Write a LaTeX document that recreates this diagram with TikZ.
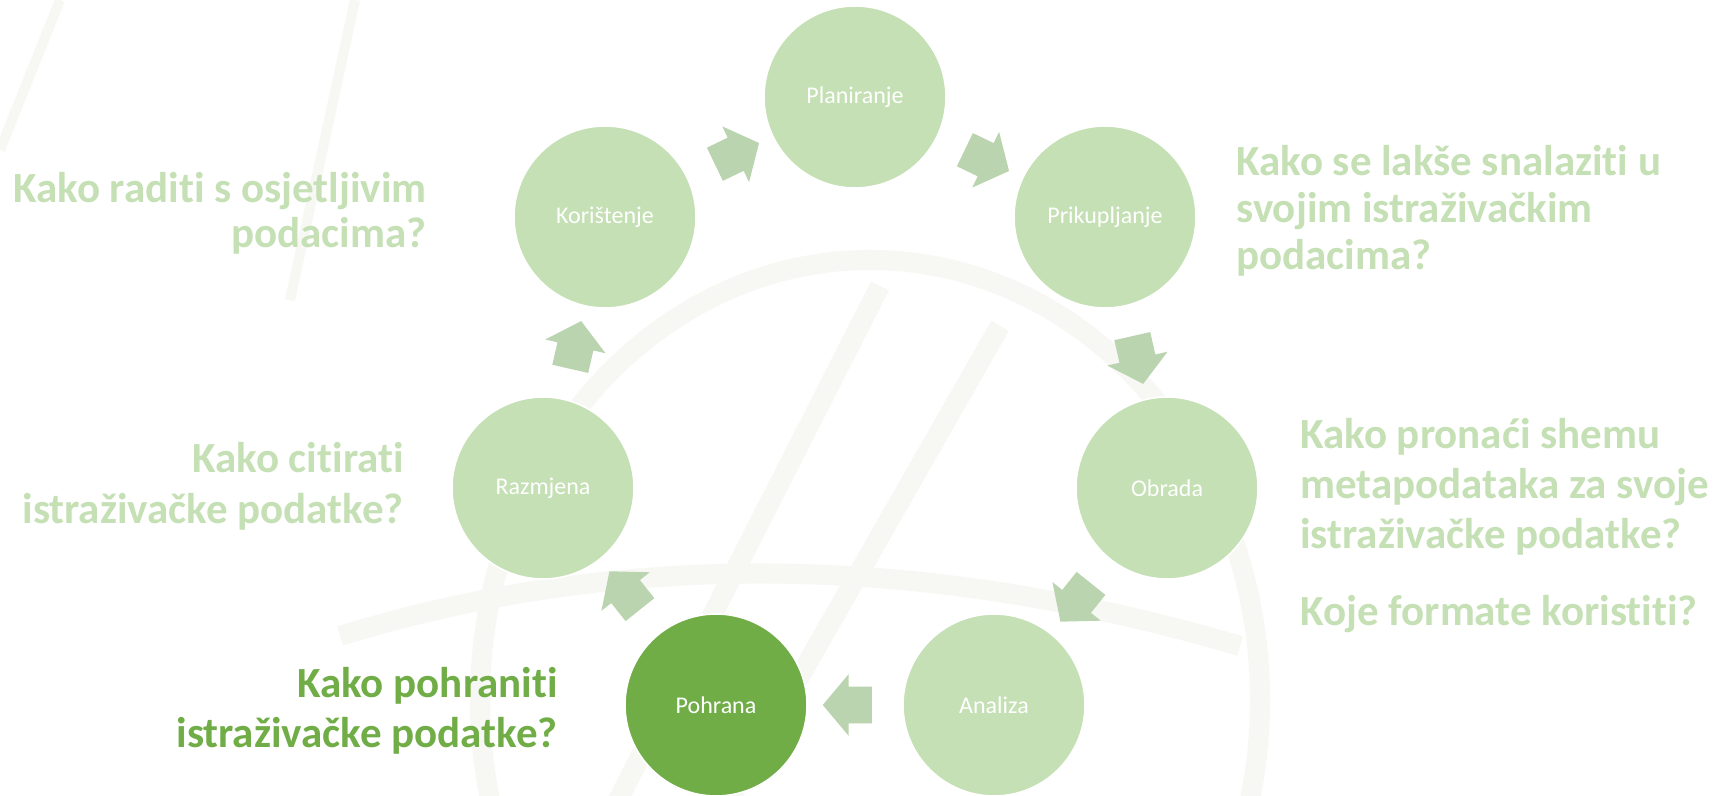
\documentclass[tikz,border=0pt]{standalone}
\usepackage{fontspec}
\setmainfont{Carlito}[Ligatures=NoCommon]
\usetikzlibrary{shapes.arrows,calc}
\definecolor{tclair}{HTML}{C5E0B4}
\definecolor{tfonce}{HTML}{70AD47}
\definecolor{tfleche}{HTML}{BAD4AF}
\definecolor{tfond}{HTML}{F7F7F4}

\begin{document}
\begin{tikzpicture}[
    x=0.5pt, y=0.5pt,
    etape/.style={draw=white, line width=0.8pt, circle, minimum size=91pt,
                  inner sep=0pt, fill=tclair, text=white,
                  font=\fontsize{12}{14}\selectfont},
    fleche/.style={single arrow, draw=none, fill=tfleche, inner xsep=0pt,
                   inner ysep=9pt, minimum height=24.5pt,
                   single arrow head extend=6.25pt, single arrow tip angle=100},
    question/.style={inner sep=0pt, text=tclair,
                     font=\fontsize{21.5}{25}\selectfont\bfseries},
    globe/.style={draw=tfond, line width=10pt}
  ]
  \fill[white] (0,0) rectangle (1718,796);
  \useasboundingbox (0,0) rectangle (1718,796);

  % fond
  \begin{scope}
    \clip (0,0) rectangle (1718,796);
    \draw[globe] (870,96) ellipse (390 and 440);
    \draw[globe] (880,510) -- (610,-20);
    \draw[globe] (1000,470) -- (720,-20);
    \draw[globe] (340,160) .. controls (600,240) and (900,250) .. (1240,150);
    \draw[globe, line width=5pt] (0,646) -- (60,796);
    \draw[globe, line width=5pt] (290,496) -- (355,796);
  \end{scope}

  % cycle
  \node[etape] (plan) at (855,699) {Planiranje};
  \node[etape] (prik) at (1105,579) {Prikupljanje};
  \node[etape] (obr) at (1167,308) {Obrada};
  \node[etape] (anal) at (994,91) {Analiza};
  \node[etape, fill=tfonce] (pohr) at (716,91) {Pohrana};
  \node[etape] (razm) at (543,308) {Razmjena};
  \node[etape] (kor) at (605,579) {Korištenje};

  \node[fleche, rotate=-25.71] (f1) at ($(plan)!0.5!(prik)$) {};
  \node[fleche, rotate=-77.14] (f2) at ($(prik)!0.5!(obr)$) {};
  \node[fleche, rotate=-128.57] (f3) at ($(obr)!0.5!(anal)$) {};
  \node[fleche, rotate=180] (f4) at ($(anal)!0.5!(pohr)$) {};
  \node[fleche, rotate=128.57] (f5) at ($(pohr)!0.5!(razm)$) {};
  \node[fleche, rotate=77.14] (f6) at ($(razm)!0.5!(kor)$) {};
  \node[fleche, rotate=25.71] (f7) at ($(kor)!0.5!(plan)$) {};

  % pitanja (base = last line)
  \node[question, anchor=base east, align=right,
        font=\fontsize{21.5}{22.5}\selectfont\bfseries] (q1) at (427,548)
       {Kako raditi s osjetljivim\\podacima?};
  \node[question, anchor=base west, align=left,
        font=\fontsize{21.5}{23.5}\selectfont\bfseries] (q2) at (1236,526)
       {Kako se lakše snalaziti u\\svojim istraživačkim\\podacima?};
  \node[question, anchor=base east, align=right,
        font=\fontsize{21.5}{25.5}\selectfont\bfseries] (q3) at (404,272)
       {Kako citirati\\istraživačke podatke?};
  \node[question, anchor=base west, align=left] (q4) at (1300,170)
       {Kako pronaći shemu\\metapodataka za svoje\\istraživačke podatke?\\[13.5pt]Koje formate koristiti?};
  \node[question, anchor=base east, align=right, text=tfonce] (q5) at (558,48)
       {Kako pohraniti\\istraživačke podatke?};
\end{tikzpicture}
\end{document}
